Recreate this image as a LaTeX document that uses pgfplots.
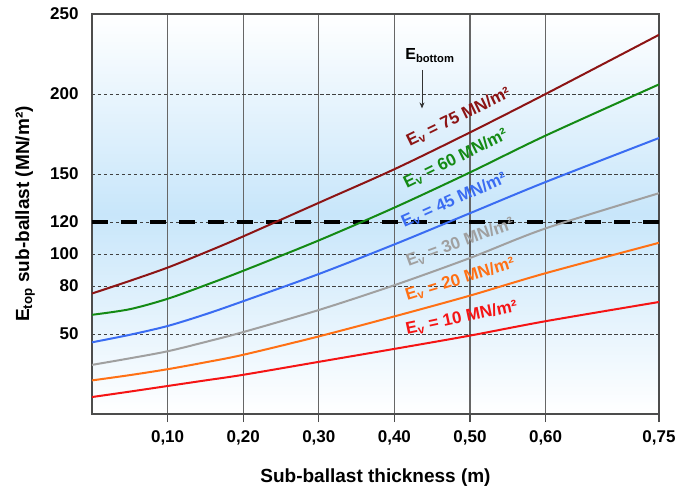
\documentclass[border=0pt]{standalone}
\usepackage{fontspec}
\setmainfont{Liberation Sans}
\usepackage{pgfplots}
\usepackage{pgfplotstable}
\pgfplotsset{compat=1.18}
\usetikzlibrary{arrows.meta}

\definecolor{evSeventyFive}{HTML}{8C1414}
\definecolor{evSixty}{HTML}{148A14}
\definecolor{evFortyFive}{HTML}{3A6CF2}
\definecolor{evThirty}{HTML}{A0A0A0}
\definecolor{evTwenty}{HTML}{FF7014}
\definecolor{evTen}{HTML}{F51414}
\definecolor{skyband}{HTML}{C8E6FA}

% E_top of the sub-ballast (MN/m2) against thickness (m), one column per E_v
\pgfplotstableread{
t     e75   e60   e45   e30   e20   e10
0.00  75.3  62.0  44.8  30.7  21.0  10.6
0.05  83.2  65.5  49.5  34.8  24.3  14.0
0.10  91.5  72.0  55.0  39.2  28.0  17.5
0.15  101.0 80.5  62.3  45.0  32.3  21.0
0.20  111.0 89.5  70.5  51.2  37.0  24.5
0.30  132.0 108.5 87.5  65.0  48.5  32.6
0.40  153.0 129.0 106.0 80.5  61.0  40.7
0.50  176.0 151.0 125.5 97.5  74.0  49.0
0.60  200.0 174.0 145.0 116.0 88.0  58.0
0.75  237.0 206.0 172.5 138.0 107.0 70.0
}\etop

\begin{document}
\begin{tikzpicture}
\begin{axis}[
    scale only axis,
    width=567bp, height=400bp,
    xmin=0, xmax=0.75,
    ymin=0, ymax=250,
    axis background/.style={shade, top color=white, bottom color=white, middle color=skyband},
    axis line style={draw=black!70, line width=1.4bp},
    xtick={0.1,0.2,0.3,0.4,0.5,0.6,0.75},
    xticklabels={{0,10},{0,20},{0,30},{0,40},{0,50},{0,60},{0,75}},
    ytick={50,80,100,120,150,200,250},
    yticklabels={50,80,100,120,150,200,250},
    xmajorgrids, ymajorgrids,
    x grid style={black!60, line width=1.2bp},
    y grid style={black!75, line width=0.8bp, dash pattern=on 3.5bp off 2.5bp},
    tick align=outside,
    xtick pos=bottom, ytick pos=left,
    ytick style={draw=none},
    xtick style={black!70, line width=1.2bp},
    major tick length=8bp,
    ticklabel style={font=\fontsize{17bp}{20bp}\selectfont\bfseries},
    xticklabel style={yshift=-5bp},
    yticklabel style={xshift=-2bp},
    xlabel={Sub-ballast thickness (m)},
    ylabel={E\textsubscript{top} sub-ballast (MN/m²)},
    label style={font=\fontsize{19bp}{22bp}\selectfont\bfseries},
    xlabel style={at={(axis description cs:0.5,-0.16)}, anchor=center},
    ylabel style={at={(axis description cs:-0.118,0.5)}, anchor=center},
    every axis plot/.append style={line width=2bp, smooth},
]
\addplot[black, line width=4bp, dash pattern=on 16bp off 13bp, sharp plot] coordinates {(0,120) (0.75,120)};

\addplot[evTen]         table[x=t, y=e10] {\etop};
\addplot[evTwenty]      table[x=t, y=e20] {\etop};
\addplot[evThirty]      table[x=t, y=e30] {\etop};
\addplot[evFortyFive]   table[x=t, y=e45] {\etop};
\addplot[evSixty]       table[x=t, y=e60] {\etop};
\addplot[evSeventyFive] table[x=t, y=e75] {\etop};

\begin{scope}[every node/.style={font=\fontsize{17bp}{19bp}\selectfont\bfseries, inner sep=0pt}]
\node[rotate=26, text=evSeventyFive] at (axis cs:0.485,185.6) {E\textsubscript{v} = 75 MN/m²};
\node[rotate=26, text=evSixty]       at (axis cs:0.481,159.5) {E\textsubscript{v} = 60 MN/m²};
\node[rotate=24, text=evFortyFive]   at (axis cs:0.479,133.5) {E\textsubscript{v} = 45 MN/m²};
\node[rotate=20, text=evThirty]      at (axis cs:0.487,107.0) {E\textsubscript{v} = 30 MN/m²};
\node[rotate=17, text=evTwenty]      at (axis cs:0.487,84.0)  {E\textsubscript{v} = 20 MN/m²};
\node[rotate=12, text=evTen]         at (axis cs:0.489,60.0)  {E\textsubscript{v} = 10 MN/m²};
\end{scope}

\node[font=\fontsize{16bp}{18bp}\selectfont\bfseries, inner sep=0pt] at (axis cs:0.447,224) {E\textsubscript{bottom}};
\draw[-{Stealth[length=6bp, width=5bp]}, black!80, line width=0.8bp] (axis cs:0.4365,215) -- (axis cs:0.4365,191);
\end{axis}
\pgfresetboundingbox
\path[use as bounding box] (-92bp,-76bp) rectangle (590bp,414bp);
\end{tikzpicture}
\end{document}
